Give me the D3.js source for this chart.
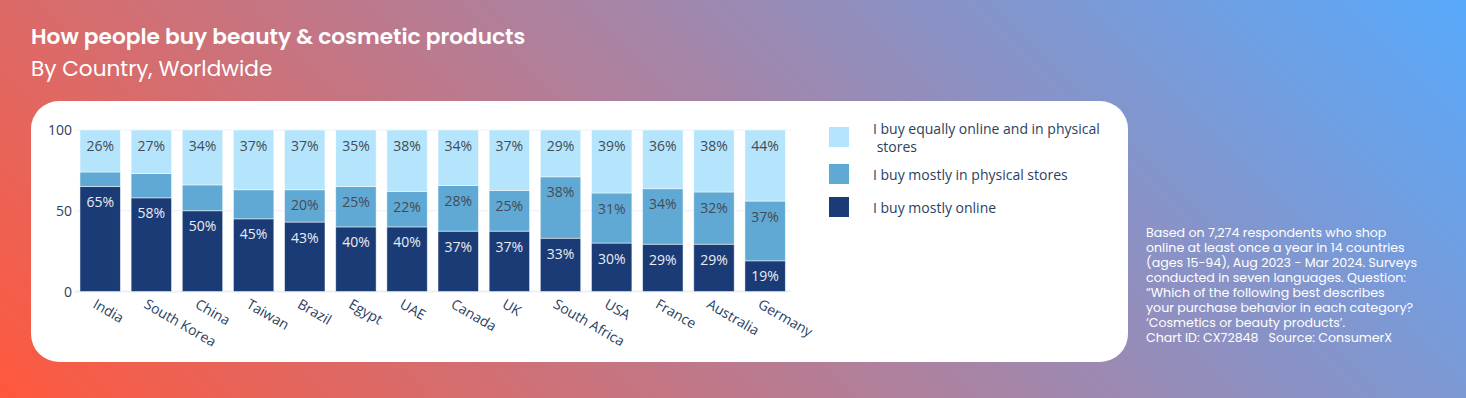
<!DOCTYPE html>
<html>
<head>
<meta charset="utf-8">
<script src="https://cdn.jsdelivr.net/npm/d3@7"></script>
<style>
  html, body { margin: 0; padding: 0; }
  body { width: 1466px; height: 398px; overflow: hidden; }
  text { white-space: pre; }
</style>
</head>
<body>
<div id="chart"></div>
<script>
var countries = ["India", "South Korea", "China", "Taiwan", "Brazil", "Egypt", "UAE",
                 "Canada", "UK", "South Africa", "USA", "France", "Australia", "Germany"];
var mostlyOnline   = [65, 58, 50, 45, 43, 40, 40, 37, 37, 33, 30, 29, 29, 19];
var mostlyPhysical = [9, 15, 16, 18, 20, 25, 22, 28, 25, 38, 31, 34, 32, 37];
var equally        = [26, 27, 34, 37, 37, 35, 38, 34, 37, 29, 39, 36, 38, 44];
var yTicks = [0, 50, 100];
var seriesNames = ["I buy mostly online", "I buy mostly in physical stores", "I buy equally online and in physical\n stores"];
var footnote = [
  "Based on 7,274 respondents who shop",
  "online at least once a year in 14 countries",
  "(ages 15-94), Aug 2023 - Mar 2024. Surveys",
  "conducted in seven languages. Question:",
  "\u201cWhich of the following best describes",
  "your purchase behavior in each category?",
  "\u2018Cosmetics or beauty products\u2019.",
  "Chart ID: CX72848   Source: ConsumerX"
];

var W = 1466, H = 398;
var colors = ["#1b3b76", "#5fa9d4", "#b4e5fc"];
var labelColors = ["#e9edf3", "#454b55", "#454b55"];
var plotFont = "'Open Sans', sans-serif";
var headFont = "Poppins, Inter, sans-serif";

var svg = d3.select("#chart").append("svg")
    .attr("width", W)
    .attr("height", H);

// background gradient, 45deg like css
var defs = svg.append("defs");
var half = (W + H) * Math.SQRT1_2 / 2;
var grad = defs.append("linearGradient")
    .attr("id", "bg")
    .attr("gradientUnits", "userSpaceOnUse")
    .attr("x1", W / 2 - half * Math.SQRT1_2).attr("y1", H / 2 + half * Math.SQRT1_2)
    .attr("x2", W / 2 + half * Math.SQRT1_2).attr("y2", H / 2 - half * Math.SQRT1_2);
grad.append("stop").attr("offset", 0).attr("stop-color", "#ff583d");
grad.append("stop").attr("offset", 0.5).attr("stop-color", "#ad819f");
grad.append("stop").attr("offset", 1).attr("stop-color", "#58aafc");

svg.append("rect").attr("width", W).attr("height", H).attr("fill", "url(#bg)");

svg.append("text")
    .attr("x", 31).attr("y", 44)
    .attr("font-family", headFont).attr("font-weight", 600).attr("font-size", 21.7)
    .attr("fill", "#fff")
    .text("How people buy beauty & cosmetic products");
svg.append("text")
    .attr("x", 31).attr("y", 76)
    .attr("font-family", headFont).attr("font-size", 21.6)
    .attr("fill", "#fff")
    .text("By Country, Worldwide");

svg.append("text")
    .attr("x", 1146).attr("y", 236.5)
    .attr("font-family", headFont).attr("font-size", 12.6)
    .attr("fill", "#fff")
  .selectAll("tspan")
    .data(footnote)
  .enter().append("tspan")
    .attr("x", 1146)
    .attr("dy", (d, i) => i ? 15.1 : 0)
    .text(d => d);

// white card
svg.append("rect")
    .attr("x", 31).attr("y", 101)
    .attr("width", 1097).attr("height", 261)
    .attr("rx", 28)
    .attr("fill", "#fff");

var x = d3.scaleBand()
    .domain(countries)
    .range([74.6, 790.7])
    .paddingInner(0.21)
    .paddingOuter(0.105);
var y = d3.scaleLinear()
    .domain([0, 100])
    .range([291.5, 130]);

var g = svg.append("g");

g.selectAll(".grid")
    .data(yTicks)
  .enter().append("line")
    .attr("x1", 74.6).attr("x2", 790.7)
    .attr("y1", d => y(d)).attr("y2", d => y(d))
    .attr("stroke", "#ebf0f8")
    .attr("stroke-width", d => d === 0 ? 2 : 1);

g.selectAll(".ytick")
    .data(yTicks)
  .enter().append("text")
    .attr("x", 72).attr("y", d => y(d))
    .attr("dy", "0.36em")
    .attr("text-anchor", "end")
    .attr("font-family", plotFont).attr("font-size", 14)
    .attr("fill", "#2a3f5f")
    .text(d => d);

var table = countries.map((c, i) => ({country: c, online: mostlyOnline[i], physical: mostlyPhysical[i], equal: equally[i]}));
var keys = ["online", "physical", "equal"];
// rounded shares don't always add to 100, bars are drawn as full shares
var stacked = d3.stack().keys(keys).offset(d3.stackOffsetExpand)(table);

var layers = g.selectAll(".layer")
    .data(stacked)
  .enter().append("g")
    .attr("fill", (d, i) => colors[i]);

layers.selectAll("rect")
    .data(d => d)
  .enter().append("rect")
    .attr("x", d => x(d.data.country))
    .attr("width", x.bandwidth())
    .attr("y", d => y(d[1] * 100))
    .attr("height", d => y(d[0] * 100) - y(d[1] * 100))
    .attr("stroke", "#fff").attr("stroke-opacity", 0.6).attr("stroke-width", 0.8);

// small segments get no label
layers.each(function(layer, li) {
  var key = layer.key;
  d3.select(this).selectAll("text")
      .data(layer.filter(d => d.data[key] >= 19))
    .enter().append("text")
      .attr("x", d => x(d.data.country) + x.bandwidth() / 2)
      .attr("y", d => y(d[1] * 100) + 15.5)
      .attr("dy", "0.36em")
      .attr("text-anchor", "middle")
      .attr("font-family", plotFont).attr("font-size", 14)
      .attr("fill", labelColors[li])
      .text(d => d.data[key] + "%");
});

// rotated country labels
g.selectAll(".xtick")
    .data(countries)
  .enter().append("text")
    .attr("transform", d => "translate(" + (x(d) + x.bandwidth() / 2 - 3) + ",298) rotate(30)")
    .attr("dy", "0.75em")
    .attr("font-family", plotFont).attr("font-size", 14)
    .attr("fill", "#2a3f5f")
    .text(d => d);

// legend, top entry first
var legendOrder = [2, 1, 0];
var legendY = [127, 164, 197];
var leg = g.selectAll(".legend")
    .data(legendOrder)
  .enter().append("g")
    .attr("transform", (d, i) => "translate(829," + legendY[i] + ")");
leg.append("rect")
    .attr("width", 20).attr("height", 20)
    .attr("fill", d => colors[d]);
leg.append("text")
    .attr("font-family", plotFont).attr("font-size", 14)
    .attr("fill", "#2a3f5f")
  .selectAll("tspan")
    .data(d => seriesNames[d].split("\n"))
  .enter().append("tspan")
    .attr("x", 44)
    .attr("y", (d, i, nodes) => 10.5 - (nodes.length - 1) * 9 + i * 18)
    .attr("dy", "0.36em")
    .text(d => d);
</script>
</body>
</html>
